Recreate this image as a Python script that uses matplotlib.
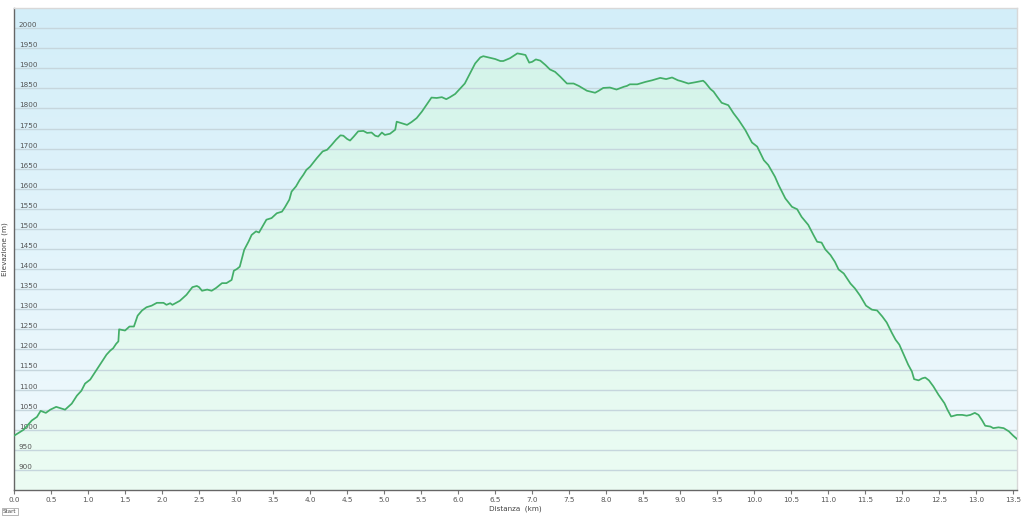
import numpy as np
import matplotlib
matplotlib.use("Agg")
import matplotlib.pyplot as plt
from matplotlib.colors import LinearSegmentedColormap

# Elevation profile (km, m)
distance_km = [
    0.00, 0.13, 0.24, 0.31, 0.36, 0.43, 0.49, 0.57, 0.62, 0.69, 0.78, 0.85, 0.91, 0.96,
    1.03, 1.09, 1.16, 1.25, 1.30, 1.34, 1.38, 1.41, 1.42, 1.50, 1.56, 1.62, 1.67, 1.73,
    1.79, 1.86, 1.93, 2.02, 2.06, 2.11, 2.14, 2.24, 2.33, 2.41, 2.47, 2.50, 2.54, 2.61,
    2.67, 2.73, 2.81, 2.87, 2.94, 2.97, 3.01, 3.05, 3.11, 3.17, 3.21, 3.27, 3.31, 3.37,
    3.41, 3.48, 3.55, 3.62, 3.66, 3.72, 3.75, 3.81, 3.86, 3.91, 3.95, 4.00, 4.09, 4.17,
    4.23, 4.29, 4.35, 4.41, 4.45, 4.50, 4.54, 4.59, 4.65, 4.72, 4.77, 4.83, 4.88, 4.92,
    4.97, 5.01, 5.08, 5.15, 5.17, 5.24, 5.31, 5.37, 5.44, 5.51, 5.58, 5.64, 5.71, 5.78,
    5.84, 5.89, 5.96, 6.03, 6.09, 6.16, 6.23, 6.30, 6.34, 6.41, 6.50, 6.57, 6.61, 6.70,
    6.80, 6.86, 6.91, 6.96, 7.00, 7.05, 7.11, 7.18, 7.24, 7.31, 7.38, 7.47, 7.56, 7.63,
    7.74, 7.85, 7.90, 7.96, 8.05, 8.14, 8.24, 8.28, 8.32, 8.42, 8.53, 8.62, 8.73, 8.81,
    8.89, 8.97, 9.01, 9.11, 9.20, 9.31, 9.34, 9.41, 9.45, 9.50, 9.56, 9.65, 9.72, 9.79,
    9.88, 9.97, 10.04, 10.13, 10.19, 10.28, 10.33, 10.42, 10.51, 10.58, 10.64, 10.73,
    10.80, 10.85, 10.91, 10.96, 11.03, 11.09, 11.14, 11.21, 11.30, 11.36, 11.43, 11.51,
    11.59, 11.66, 11.73, 11.79, 11.86, 11.91, 11.96, 12.02, 12.08, 12.13, 12.16, 12.22,
    12.27, 12.31, 12.36, 12.42, 12.49, 12.57, 12.61, 12.66, 12.74, 12.81, 12.87, 12.92,
    12.98, 13.03, 13.08, 13.12, 13.19, 13.23, 13.30, 13.37, 13.44, 13.50, 13.55,
]
elevation_m = [
    985, 1000, 1023, 1032, 1047, 1042, 1050, 1057, 1054, 1050, 1065, 1085, 1097, 1115,
    1125, 1142, 1162, 1187, 1197, 1203, 1214, 1220, 1250, 1247, 1257, 1257, 1284, 1297,
    1305, 1309, 1316, 1316, 1311, 1315, 1311, 1321, 1336, 1355, 1358, 1355, 1346, 1349,
    1346, 1353, 1365, 1365, 1373, 1396, 1400, 1406, 1448, 1469, 1485, 1494, 1491, 1510,
    1523, 1527, 1539, 1543, 1554, 1573, 1593, 1606, 1622, 1635, 1647, 1655, 1676, 1693,
    1697, 1709, 1722, 1733, 1732, 1724, 1720, 1730, 1743, 1744, 1739, 1740, 1732, 1730,
    1740, 1734, 1737, 1747, 1767, 1763, 1759, 1766, 1776, 1792, 1811, 1827, 1826, 1828,
    1823, 1828, 1836, 1850, 1862, 1887, 1912, 1927, 1930, 1927, 1923, 1918, 1918, 1925,
    1937, 1935, 1933, 1914, 1916, 1922, 1919, 1908, 1897, 1891, 1879, 1862, 1862, 1856,
    1844, 1839, 1844, 1851, 1852, 1847, 1854, 1856, 1860, 1860, 1866, 1870, 1876, 1873,
    1877, 1870, 1868, 1862, 1865, 1869, 1864, 1848, 1842, 1829, 1814, 1808, 1788, 1771,
    1746, 1715, 1705, 1671, 1659, 1630, 1609, 1576, 1555, 1549, 1530, 1510,
    1485, 1468, 1466, 1449, 1435, 1418, 1399, 1389, 1364, 1352, 1334, 1309,
    1299, 1297, 1282, 1267, 1241, 1224, 1212, 1187, 1162, 1145, 1126, 1123,
    1128, 1130, 1123, 1108, 1087, 1066, 1050, 1033, 1037, 1037, 1035, 1037,
    1042, 1037, 1023, 1010, 1008, 1004, 1006, 1004, 996, 985, 977,
]

x_ticks = np.arange(0, 14.0, 0.5)
y_ticks = np.arange(900, 2001, 50)
x_min, x_max = 0, 13.55
y_min, y_max = 850, 2050

fig = plt.figure(figsize=(10.24, 5.16), dpi=100)
ax = fig.add_axes([14 / 1024, 26 / 516, 1003 / 1024, 482 / 516])

# background gradient (blue at top, paler at bottom)
sky = LinearSegmentedColormap.from_list("sky", ["#f2fafd", "#d3eef9"])
grad = np.linspace(0, 1, 256).reshape(-1, 1)
ax.imshow(grad, cmap=sky, extent=[x_min, x_max, y_min, y_max], origin="lower",
          aspect="auto", zorder=0)

# green gradient under the profile, clipped to the area under the curve
meadow = LinearSegmentedColormap.from_list("meadow", ["#ecfcf3", "#d4f4ea"])
fill_img = ax.imshow(grad, cmap=meadow, extent=[x_min, x_max, y_min, 1950],
                     origin="lower", aspect="auto", zorder=1)
area = ax.fill_between(distance_km, elevation_m, y_min, color="none", lw=0)
fill_img.set_clip_path(area.get_paths()[0], transform=ax.transData)

for yt in y_ticks:
    ax.axhline(yt, color="#c6d6dd", lw=1, zorder=2)

ax.plot(distance_km, elevation_m, color="#43ae68", lw=1.25, zorder=3)

ax.set_xlim(x_min, x_max)
ax.set_ylim(y_min, y_max)

ax.set_xticks(x_ticks)
ax.set_xticklabels([f"{v:.1f}" for v in x_ticks], fontsize=5.2, color="#555555")
ax.tick_params(axis="x", length=3, width=0.8, color="#777777", pad=2)

ax.set_yticks(y_ticks)
ax.set_yticklabels([str(v) for v in y_ticks], fontsize=5.2, color="#555555",
                   ha="left", va="bottom")
ax.tick_params(axis="y", length=0, pad=-3.5)
for lbl in ax.get_yticklabels():
    lbl.set_y(lbl.get_position()[1])
    lbl.set_verticalalignment("bottom")

ax.set_xlabel("Distanza  (km)", fontsize=5.2, color="#444444", labelpad=2)
ax.set_ylabel("Elevazione (m)", fontsize=5.2, color="#444444", labelpad=2)
ax.yaxis.set_label_coords(-0.006, 0.5)

ax.spines["left"].set_color("#666666")
ax.spines["bottom"].set_color("#666666")
ax.spines["top"].set_color("#d8d8d8")
ax.spines["right"].set_color("#d8d8d8")
for s in ax.spines.values():
    s.set_linewidth(1)

fig.text(3 / 1024, 3 / 516, "Start", fontsize=4, color="#444444",
         bbox=dict(facecolor="white", edgecolor="#999999", lw=0.5, pad=0.8))

fig.savefig("out.png", dpi=100, facecolor="white")
